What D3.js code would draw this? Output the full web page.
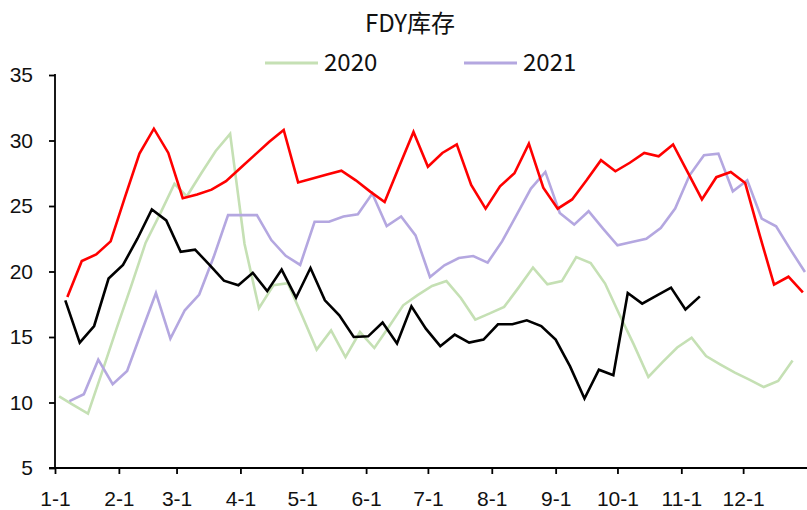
<!DOCTYPE html>
<html>
<head>
<meta charset="utf-8">
<script src="https://cdn.jsdelivr.net/npm/d3@7"></script>
<style>
  body { margin: 0; background: #fff; }
  svg { display: block; font-family: "Noto Sans CJK SC", "Noto Sans", sans-serif; }
</style>
</head>
<body>
<div id="chart"></div>
<script>
var width = 807,
    height = 510;

// weekly data, every Friday, from the first Friday of each year
var series2020 = [10.47, 9.8, 9.15, 12.4, 15.7, 18.9, 22.2, 24.4, 26.7, 25.74, 27.5, 29.2, 30.5,
  22.1, 17.2, 18.95, 19.1, 16.6, 14.04, 15.5, 13.47, 15.38, 14.16, 15.76, 17.42, 18.2, 18.9,
  19.27, 17.98, 16.33, 16.8, 17.3, 18.77, 20.3, 19.02, 19.27, 21.1, 20.65, 19.08, 16.7, 14.4,
  11.95, 13.1, 14.2, 14.95, 13.55, 12.9, 12.28, 11.75, 11.18, 11.64, 13.2];
var series2021 = [10.1, 10.63, 13.27, 11.4, 12.4, 15.4, 18.36, 14.88, 17.04, 18.24, 21.1, 24.3,
  24.3, 24.3, 22.4, 21.2, 20.5, 23.8, 23.8, 24.2, 24.37, 25.95, 23.47, 24.2, 22.76, 19.58, 20.47,
  21.03, 21.18, 20.68, 22.3, 24.3, 26.33, 27.6, 24.47, 23.58, 24.6, 23.27, 22.0, 22.25, 22.5,
  23.32, 24.8, 27.34, 28.87, 29.0, 26.12, 26.96, 24.04, 23.45, 21.67, 19.96];
var series2022 = [18.05, 20.8, 21.3, 22.3, 25.7, 29.0, 30.9, 29.05, 25.6, 25.87, 26.25, 26.9,
  27.9, 28.9, 29.9, 30.8, 26.8, 27.1, 27.4, 27.7, 26.96, 26.1, 25.3, 28.0, 30.65, 28.0, 29.05,
  29.7, 26.6, 24.8, 26.5, 27.5, 29.76, 26.4, 24.8, 25.5, 26.96, 28.5, 27.65, 28.3, 29.05, 28.8,
  29.7, 27.6, 25.5, 27.2, 27.6, 26.75, 22.8, 19.0, 19.6, 18.4];
var series2023 = [17.8, 14.57, 15.84, 19.46, 20.5, 22.5, 24.73, 23.9, 21.5, 21.67, 20.5, 19.3,
  18.95, 19.9, 18.5, 20.15, 18.0, 20.27, 17.8, 16.65, 15.0, 15.05, 16.1, 14.5, 17.34, 15.64,
  14.3, 15.18, 14.57, 14.8, 15.97, 15.97, 16.27, 15.84, 14.8, 12.76, 10.3, 12.5, 12.08, 18.36,
  17.55, 18.16, 18.77, 17.1, 18.1];

var years = [2020, 2021, 2022, 2023];
var firstDays = ["2020-01-03", "2021-01-08", "2022-01-07", "2023-01-06"];
var colors = ["#c5e0b4", "#b4a7e0", "#ff0000", "#000000"];
var legendYears = ["2020", "2021"];
var monthTicks = d3.range(12);
var yTicks = [5, 10, 15, 20, 25, 30, 35];

var margin = {top: 75, right: 0, bottom: 42, left: 55};

var x = d3.scaleTime()
    .domain([new Date(2021, 0, 1), new Date(2022, 0, 1)])
    .range([margin.left, width]);

var y = d3.scaleLinear()
    .domain([5, 35])
    .range([height - margin.bottom, margin.top]);

var parse = d3.timeParse("%Y-%m-%d");

// put each year on the same month-day calendar
function toCommon(d) {
  return new Date(2021, d.getMonth(), d.getDate());
}

var allSeries = [series2020, series2021, series2022, series2023].map(function(vals, i) {
  var start = parse(firstDays[i]);
  return {
    year: years[i],
    color: colors[i],
    points: vals.map(function(v, k) {
      return {date: toCommon(d3.timeDay.offset(start, 7 * k)), value: v};
    })
  };
});

var svg = d3.select("#chart").append("svg")
    .attr("width", width)
    .attr("height", height);

svg.append("defs").append("clipPath")
    .attr("id", "plot")
  .append("rect")
    .attr("x", margin.left)
    .attr("y", 0)
    .attr("width", width - margin.left)
    .attr("height", height);

var line = d3.line()
    .x(function(d) { return x(d.date); })
    .y(function(d) { return y(d.value); });

svg.append("g")
    .attr("clip-path", "url(#plot)")
  .selectAll("path")
    .data(allSeries)
  .enter().append("path")
    .attr("d", function(d) { return line(d.points); })
    .attr("fill", "none")
    .attr("stroke", function(d) { return d.color; })
    .attr("stroke-width", 2.6)
    .attr("stroke-linejoin", "miter");

// y axis
var yAxis = svg.append("g")
    .attr("transform", "translate(" + margin.left + ",0)")
    .call(d3.axisLeft(y).tickValues(yTicks).tickSize(6).tickPadding(16));
yAxis.select(".domain").attr("stroke", "#000").attr("stroke-width", 1.8)
    .attr("d", "M0," + (y(35) - 1) + "V" + y(5));
yAxis.selectAll(".tick line").attr("stroke-width", 1.8);
yAxis.selectAll("text").attr("font-size", 21).attr("fill", "#111");

// x axis
var xAxis = svg.append("g")
    .attr("transform", "translate(0," + y(5) + ")")
    .call(d3.axisBottom(x)
      .tickValues(monthTicks.map(function(m) { return new Date(2021, m, 1); }))
      .tickFormat(function(d) { return (d.getMonth() + 1) + "-1"; })
      .tickSize(6).tickPadding(17));
xAxis.select(".domain").attr("stroke", "#000").attr("stroke-width", 1.8)
    .attr("d", "M" + (margin.left - 6) + ",0H" + width);
xAxis.selectAll(".tick line").attr("stroke-width", 1.8);
xAxis.selectAll("text").attr("font-size", 21).attr("fill", "#111");

// title
svg.append("text")
    .attr("x", 410)
    .attr("y", 31.5)
    .attr("text-anchor", "middle")
    .attr("font-size", 24)
    .attr("fill", "#111")
    .text("FDY库存");

// legend
var legend = svg.append("g").selectAll("g")
    .data(legendYears)
  .enter().append("g")
    .attr("transform", function(d, i) { return "translate(" + (265 + i * 199) + ",63)"; });

legend.append("line")
    .attr("x1", 0).attr("x2", 53)
    .attr("stroke", function(d, i) { return colors[i]; })
    .attr("stroke-width", 3);

legend.append("text")
    .attr("x", 59)
    .attr("y", 7.5)
    .attr("font-size", 24)
    .attr("fill", "#111")
    .text(function(d) { return d; });
</script>
</body>
</html>
